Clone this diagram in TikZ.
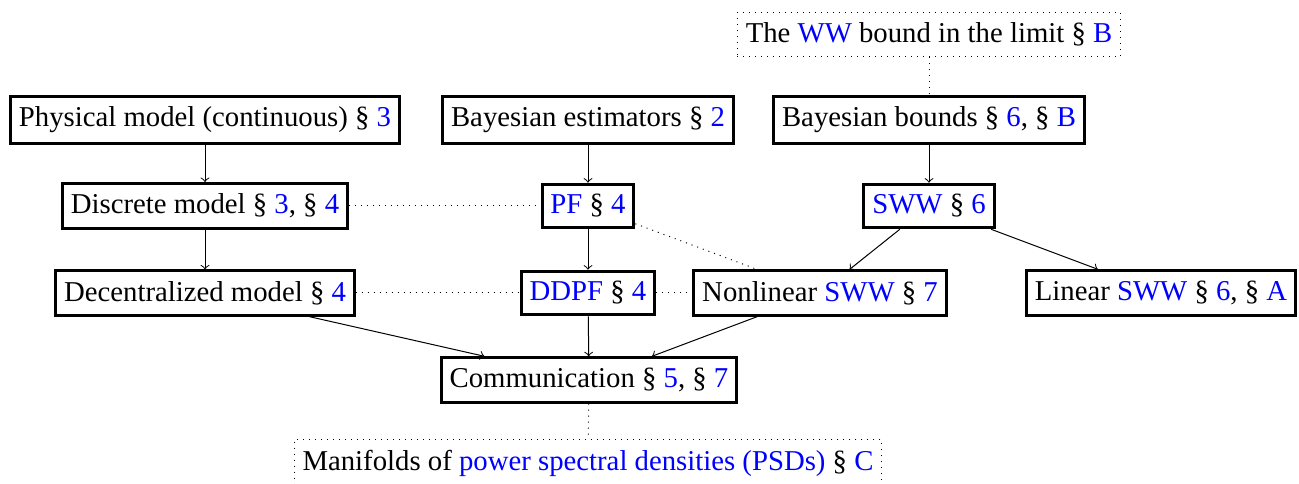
\documentclass[tikz,border=0pt]{standalone}
\usepackage{fontspec}
\setmainfont{Liberation Serif}
\newcommand{\blu}[1]{\textcolor{blue}{#1}}

\begin{document}
\begin{tikzpicture}[x=0.4pt, y=-0.4pt,
          every node/.style={font=\fontsize{11.5}{14}\selectfont, inner xsep=3.33pt, inner ysep=4.1pt},
          box/.style={draw, very thick},
          note/.style={draw, dotted},
          link/.style={dotted},
          arr/.style={->}]
          \useasboundingbox (0,0) rectangle (1299,484);
          % top row
          \node[note] (limit) at (929,34.5) {The \blu{WW} bound in the limit \S~\blu{B}};
          \node[box] (phys) at (205,120) {Physical model (continuous) \S~\blu{3}};
          \node[box] (estim) at (588,120) {Bayesian estimators \S~\blu{2}};
          \node[box] (bounds) at (929,120) {Bayesian bounds \S~\blu{6}, \S~\blu{B}};
          % middle rows
          \node[box] (discr) at (205,206) {Discrete model \S~\blu{3}, \S~\blu{4}};
          \node[box] (pf) at (588,206) {\blu{PF} \S~\blu{4}};
          \node[box] (sww) at (929,206) {\blu{SWW} \S~\blu{6}};
          \node[box] (decen) at (205,293) {Decentralized model \S~\blu{4}};
          \node[box] (ddpf) at (588,293) {\blu{DDPF} \S~\blu{4}};
          \node[box] (nonlin) at (820,293) {Nonlinear \blu{SWW} \S~\blu{7}};
          \node[box] (lin) at (1161,293) {Linear \blu{SWW} \S~\blu{6}, \S~\blu{A}};
          % bottom
          \node[box] (comm) at (589,380) {Communication \S~\blu{5}, \S~\blu{7}};
          \node[note] (psd) at (588,463) {Manifolds of \blu{power spectral densities (PSDs)} \S~\blu{C}};

          \draw[arr] (phys) -- (discr);
          \draw[arr] (discr) -- (decen);
          \draw[arr] (estim) -- (pf);
          \draw[arr] (pf) -- (ddpf);
          \draw[arr] (bounds) -- (sww);
          \draw[arr] (sww) -- (nonlin);
          \draw[arr] (sww) -- (lin);
          \draw[arr] (decen) -- (comm);
          \draw[arr] (ddpf) -- (comm);
          \draw[arr] (nonlin) -- (comm);

          \draw[link] (limit) -- (bounds);
          \draw[link] (discr) -- (pf);
          \draw[link] (decen) -- (ddpf);
          \draw[link] (ddpf) -- (nonlin);
          \draw[link] (pf) -- (nonlin);
          \draw[link] (comm) -- (psd);
\end{tikzpicture}
\end{document}
